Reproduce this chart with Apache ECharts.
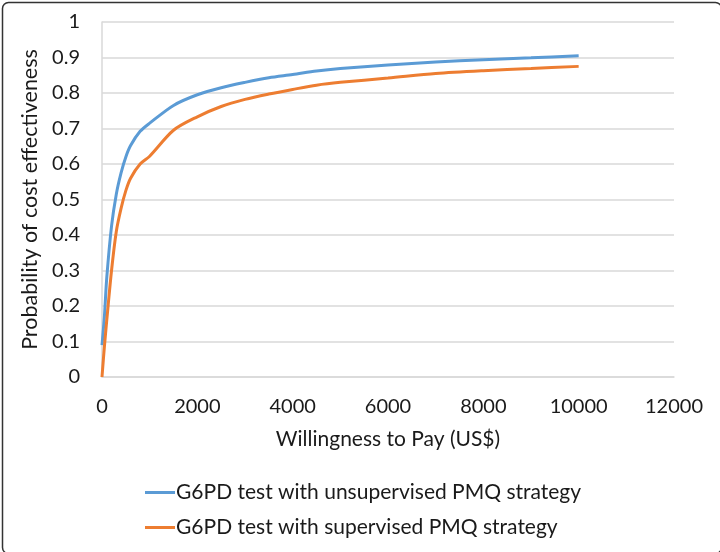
<!DOCTYPE html>
<html>
<head>
<meta charset="utf-8">
<script src="https://cdn.jsdelivr.net/npm/echarts@6/dist/echarts.min.js"></script>
<style>
  html, body { margin: 0; padding: 0; background: #fff; }
  #chart { width: 720px; height: 552px; }
</style>
</head>
<body>
<div id="chart"></div>
<script>
const wtp = [0, 50, 100, 200, 300, 400, 500, 600, 800, 1000, 1500, 2000, 2500, 3000, 3500, 4000, 4500, 5000, 6000, 7000, 8000, 9000, 10000];
const unsupervised = [0.09, 0.17, 0.28, 0.425, 0.515, 0.575, 0.62, 0.652, 0.692, 0.715, 0.765, 0.795, 0.815, 0.83, 0.843, 0.852, 0.862, 0.869, 0.879, 0.887, 0.894, 0.899, 0.905];
const supervised = [0, 0.085, 0.16, 0.3, 0.41, 0.475, 0.525, 0.56, 0.6, 0.622, 0.695, 0.733, 0.762, 0.782, 0.797, 0.81, 0.822, 0.83, 0.842, 0.855, 0.863, 0.869, 0.875];
const seriesNames = [
  "G6PD test with unsupervised PMQ strategy",
  "G6PD test with supervised PMQ strategy"
];
const colors = ["#5B9BD5", "#ED7D31"];

const FONT = "Lato, 'Open Sans', sans-serif";
const TEXT = "#1a1a1a";
const chart = echarts.init(document.getElementById("chart"));

const pairs = ys => wtp.map((x, i) => [x, ys[i]]);

chart.setOption({
  animation: false,
  textStyle: { fontFamily: FONT, color: TEXT },
  graphic: [{
    type: "rect",
    left: 0, top: 0,
    shape: { width: 719, height: 551, r: 6 },
    style: { fill: null, stroke: "#333", lineWidth: 1.5 },
    silent: true
  }],
  grid: { left: 102, right: 46, top: 22, bottom: 175 },
  legend: {
    orient: "vertical",
    left: 140,
    top: 477,
    itemWidth: 30,
    itemHeight: 3,
    itemGap: 14,
    icon: "rect",
    textStyle: { fontFamily: FONT, fontSize: 21, color: TEXT, padding: [0, 0, 0, -4] },
    data: seriesNames
  },
  xAxis: {
    type: "value",
    min: 0, max: 12000, interval: 2000,
    name: "Willingness to Pay (US$)",
    nameLocation: "middle",
    nameGap: 52,
    nameTextStyle: { fontFamily: FONT, fontSize: 21, color: TEXT },
    axisLine: { show: true, lineStyle: { color: "#D9D9D9", width: 1.5 } },
    axisTick: { show: false },
    splitLine: { show: false },
    axisLabel: { fontFamily: FONT, fontSize: 20, color: TEXT, margin: 20, formatter: v => String(v) }
  },
  yAxis: {
    type: "value",
    min: 0, max: 1, interval: 0.1,
    name: "Probability of cost effectiveness",
    nameLocation: "middle",
    nameGap: 58,
    nameTextStyle: { fontFamily: FONT, fontSize: 21.5, color: TEXT },
    axisLine: { show: true, lineStyle: { color: "#D9D9D9", width: 1.5 } },
    axisTick: { show: false },
    splitLine: { show: true, lineStyle: { color: "#D9D9D9", width: 1.5 } },
    axisLabel: {
      fontFamily: FONT, fontSize: 20, color: TEXT, margin: 22,
      formatter: v => String(Math.round(v * 10) / 10)
    }
  },
  series: [
    {
      name: seriesNames[0],
      type: "line",
      data: pairs(unsupervised),
      showSymbol: false,
      smooth: 0.3,
      lineStyle: { color: colors[0], width: 3 },
      itemStyle: { color: colors[0] }
    },
    {
      name: seriesNames[1],
      type: "line",
      data: pairs(supervised),
      showSymbol: false,
      smooth: 0.3,
      lineStyle: { color: colors[1], width: 3 },
      itemStyle: { color: colors[1] }
    }
  ]
});
</script>
</body>
</html>
